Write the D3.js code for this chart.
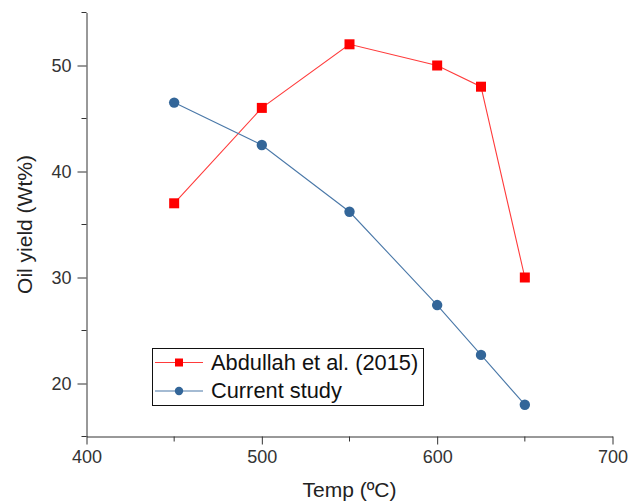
<!DOCTYPE html>
<html>
<head>
<meta charset="utf-8">
<script src="https://cdn.jsdelivr.net/npm/d3@7"></script>
<style>
  html, body { margin: 0; padding: 0; background: #fff; }
  svg { display: block; font-family: "Liberation Sans", Arial, sans-serif; }
</style>
</head>
<body>
<svg id="chart" width="637" height="503"></svg>
<script>
const temps = [450, 500, 550, 600, 625, 650];
const abdullah = [37, 46, 52, 50, 48, 30];
const current = [46.5, 42.5, 36.2, 27.4, 22.7, 18.0];
const seriesNames = ["Abdullah et al. (2015)", "Current study"];
const xMajor = [400, 500, 600, 700];
const xMinor = [450, 550, 650];
const yMajor = [20, 30, 40, 50];
const yMinor = [15, 25, 35, 45, 55];
const xTitle = "Temp (ºC)";
const yTitle = "Oil yield (Wt%)";

(function () {
const svg = d3.select("#chart");
const mLeft = 86.5, mRight = 612.5, mTop = 12.5, mBottom = 436.5;
const x = d3.scaleLinear().domain([400, 700]).range([mLeft, mRight]);
const y = d3.scaleLinear().domain([15, 55]).range([mBottom, mTop]);
const axisColor = "#333";
const textColor = "#333";
const ff = "Liberation Sans, Arial, sans-serif";

// X axis
const gx = svg.append("g").attr("transform", `translate(0,${mBottom})`)
  .call(d3.axisBottom(x).tickValues(xMajor).tickFormat(d3.format("d")).tickSize(8).tickSizeOuter(0).tickPadding(6));
gx.selectAll("text").attr("font-size", 18).attr("fill", textColor).attr("font-family", ff);
gx.selectAll("line").attr("stroke", axisColor);
gx.select(".domain").attr("stroke", axisColor);
gx.selectAll(".minor").data(xMinor).enter().append("line")
  .attr("x1", d => x(d)).attr("x2", d => x(d)).attr("y1", 0).attr("y2", 5).attr("stroke", axisColor);

// Y axis
const gy = svg.append("g").attr("transform", `translate(${mLeft},0)`)
  .call(d3.axisLeft(y).tickValues(yMajor).tickFormat(d3.format("d")).tickSize(9).tickSizeOuter(0).tickPadding(6));
gy.selectAll("text").attr("font-size", 18).attr("fill", textColor).attr("font-family", ff);
gy.selectAll("line").attr("stroke", axisColor);
gy.select(".domain").attr("stroke", axisColor);
gy.selectAll(".minor").data(yMinor).enter().append("line")
  .attr("x1", 0).attr("x2", -5).attr("y1", d => y(d)).attr("y2", d => y(d)).attr("stroke", axisColor);

// Titles
svg.append("text").attr("x", (mLeft + mRight) / 2).attr("y", 497)
  .attr("text-anchor", "middle").attr("font-size", 21).attr("fill", "#222").text(xTitle);
svg.append("text").attr("transform", `translate(31.5,${(mTop + mBottom) / 2}) rotate(-90)`)
  .attr("text-anchor", "middle").attr("font-size", 21).attr("fill", "#222").text(yTitle);

const redC = "#ff0000", blueC = "#336699";
const line = d3.line().x(d => x(d[0])).y(d => y(d[1]));

const redData = temps.map((t, i) => [t, abdullah[i]]);
const blueData = temps.map((t, i) => [t, current[i]]);

svg.append("path").datum(redData).attr("d", line).attr("fill", "none").attr("stroke", "#ff3b3b").attr("stroke-width", 1.1);
svg.append("path").datum(blueData).attr("d", line).attr("fill", "none").attr("stroke", "#4a78a8").attr("stroke-width", 1.1);

const sq = 10;
svg.selectAll(".redpt").data(redData).enter().append("rect")
  .attr("x", d => x(d[0]) - sq / 2).attr("y", d => y(d[1]) - sq / 2)
  .attr("width", sq).attr("height", sq).attr("fill", redC);
svg.selectAll(".bluept").data(blueData).enter().append("circle")
  .attr("cx", d => x(d[0])).attr("cy", d => y(d[1])).attr("r", 5.2).attr("fill", blueC);

// Legend
const lg = svg.append("g");
lg.append("rect").attr("x", 152.5).attr("y", 348.5).attr("width", 271).attr("height", 57)
  .attr("fill", "#fff").attr("stroke", "#111").attr("stroke-width", 1);
const rows = [362.5, 391];
const lcolors = ["#ff3b3b", "#4a78a8"];
rows.forEach((ry, i) => {
  lg.append("line").attr("x1", 155).attr("x2", 203).attr("y1", ry).attr("y2", ry)
    .attr("stroke", lcolors[i]).attr("stroke-width", 1.1);
  if (i === 0) {
    lg.append("rect").attr("x", 175).attr("y", ry - 4).attr("width", 8).attr("height", 8).attr("fill", redC);
  } else {
    lg.append("circle").attr("cx", 179).attr("cy", ry).attr("r", 4.2).attr("fill", blueC);
  }
  lg.append("text").attr("x", 211).attr("y", ry + 7.3).attr("font-size", 21.8).attr("fill", "#111")
    .text(seriesNames[i]);
});
})();
</script>
</body>
</html>
